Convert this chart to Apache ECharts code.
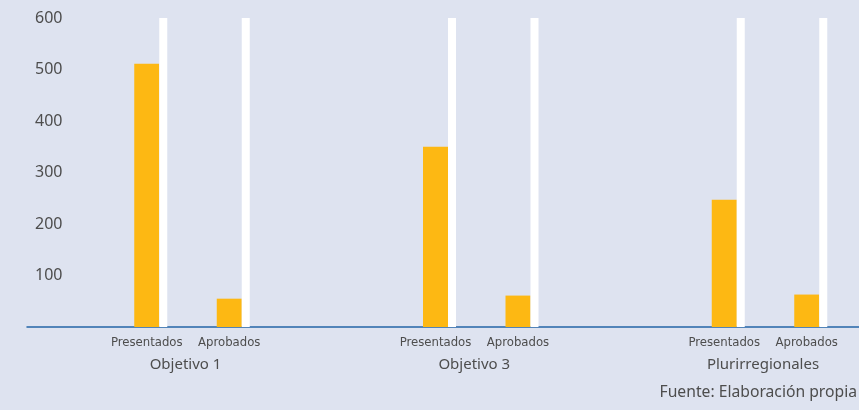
<!DOCTYPE html>
<html><head><meta charset="utf-8">
<script src="https://cdn.jsdelivr.net/npm/echarts@6/dist/echarts.min.js"></script>
<style>html,body{margin:0;padding:0;background:#dee3f0;}#c{width:859px;height:410px;}</style>
</head><body><div id="c"></div>
<script>
// ---- data ----
var groups = ['Objetivo 1', 'Objetivo 3', 'Plurirregionales'];
var subCats = ['Presentados', 'Aprobados'];
var presentados = [511, 350, 247];
var aprobados = [55, 61, 63];
var yTicks = [0, 100, 200, 300, 400, 500, 600];
var yMax = 600;
var source = 'Fuente: Elaboración propia';

// ---- build the category slots (blank slots leave the gaps between groups) ----
var cats = [], groupCats = [], orange = [], white = [];
function blank(n){ for (var k=0;k<n;k++){ cats.push(''); groupCats.push(''); orange.push('-'); white.push('-'); } }
blank(3);
for (var g=0; g<groups.length; g++){
  cats.push(subCats[0]); groupCats.push(''); orange.push(presentados[g]); white.push(yMax);
  cats.push(''); groupCats.push(groups[g]); orange.push('-'); white.push('-');
  cats.push(subCats[1]); groupCats.push(''); orange.push(aprobados[g]); white.push(yMax);
  blank(g < groups.length-1 ? 4 : 1);
}

var chart = echarts.init(document.getElementById('c'), null, {renderer:'canvas'});
chart.setOption({
  backgroundColor: '#dee3f0',
  animation: false,
  title: {
    text: source, right: -3, bottom: 4,
    textStyle: {fontFamily: 'Noto Sans', fontSize: 15.7, fontWeight: 'normal', color: '#4d4d4d'}
  },
  grid: [{left: 27, right: 7, top: 18, bottom: 83}, {left: 27, right: 0, top: 18, bottom: 83}],
  xAxis: [{
    type: 'category', data: cats, boundaryGap: false, gridIndex: 0,
    axisLine: {show: false},
    axisTick: {show: false},
    axisLabel: {interval: 0, margin: 9, padding: [0, 8, 0, 0], fontFamily: 'DejaVu Sans Condensed, sans-serif', fontSize: 13, color: '#4d4d4d'}
  }, {
    type: 'category', data: groupCats, boundaryGap: false, position: 'bottom', offset: 22, gridIndex: 0,
    axisLine: {show: false}, axisTick: {show: false},
    axisLabel: {interval: 0, margin: 8, padding: [0, 13, 0, 0], fontFamily: 'Noto Sans', fontSize: 15, color: '#4d4d4d'}
  }, {
    type: 'value', gridIndex: 1, position: 'bottom', min: 0, max: 1,
    axisLine: {show: true, onZero: false, lineStyle: {color: '#2566a6', width: 1.5}},
    axisTick: {show: false}, axisLabel: {show: false}, splitLine: {show: false}
  }],
  yAxis: [{
    type: 'value', min: yTicks[0], max: yTicks[yTicks.length-1], interval: 100, gridIndex: 0,
    axisLine: {show: false}, axisTick: {show: false}, splitLine: {show: false},
    axisLabel: {inside: true, margin: 8, showMinLabel: false, lineHeight: 22, verticalAlign: 'middle', padding: [4, 0, 0, 0], fontFamily: 'Noto Sans', fontSize: 16, color: '#4d4d4d'}
  }, {
    type: 'value', gridIndex: 1, show: false, min: 0, max: 1
  }],
  series: [{
    type: 'bar', data: orange, barWidth: 25, barGap: '0%', xAxisIndex: 0, yAxisIndex: 0,
    itemStyle: {color: '#fdb813'}
  }, {
    type: 'bar', data: white, barWidth: 8, barGap: '0%', xAxisIndex: 0, yAxisIndex: 0,
    itemStyle: {color: '#ffffff'}
  }]
});
</script></body></html>
